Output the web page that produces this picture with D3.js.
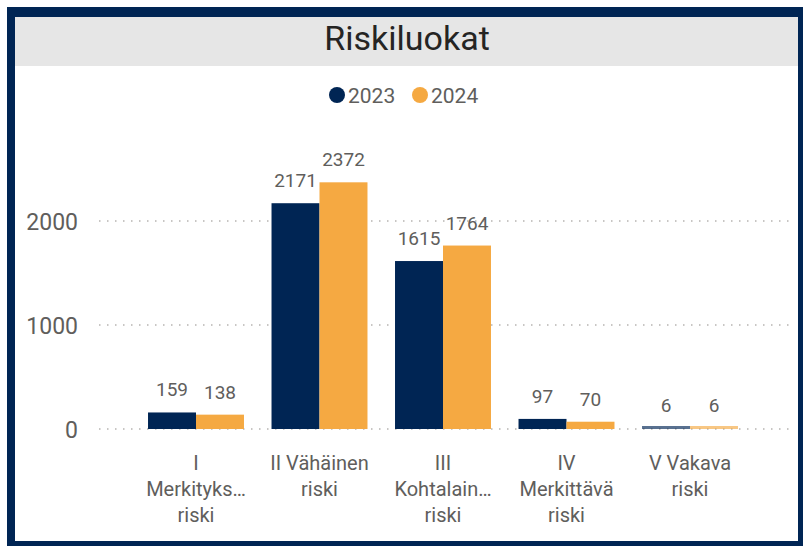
<!DOCTYPE html>
<html>
<head>
<meta charset="utf-8">
<script src="https://cdn.jsdelivr.net/npm/d3@7"></script>
<style>
  body { margin: 0; background: #fff; }
  svg text { font-family: Roboto, "Noto Sans", sans-serif; }
</style>
</head>
<body>
<svg id="chart" width="803" height="546"></svg>
<script>
// data
var categories = ["I Merkityksetön riski", "II Vähäinen riski", "III Kohtalainen riski", "IV Merkittävä riski", "V Vakava riski"];
var tickLines = [["I", "Merkityks…", "riski"], ["II Vähäinen", "riski"], ["III", "Kohtalain…", "riski"], ["IV", "Merkittävä", "riski"], ["V Vakava", "riski"]];
var years = ["2023", "2024"];
var values2023 = [159, 2171, 1615, 97, 6];
var values2024 = [138, 2372, 1764, 70, 6];
var yTicks = [0, 1000, 2000];

var colors = {"2023": "#002554", "2024": "#f5a942"};
var grey = "#605e5c";

var svg = d3.select("#chart");

// frame
svg.append("rect").attr("x", 7).attr("y", 7).attr("width", 796).attr("height", 539).attr("fill", "#002554");
svg.append("rect").attr("x", 15).attr("y", 17).attr("width", 783).attr("height", 524).attr("fill", "#fff");
svg.append("rect").attr("x", 15).attr("y", 17).attr("width", 783).attr("height", 49).attr("fill", "#e6e6e6");

svg.append("text")
  .attr("x", 407).attr("y", 50)
  .attr("text-anchor", "middle")
  .style("font-size", "34px")
  .style("fill", "#252423")
  .text("Riskiluokat");

// legend
var legend = svg.append("g");
var legendX = [337, 420];
years.forEach(function(yr, i) {
  legend.append("circle").attr("cx", legendX[i]).attr("cy", 95).attr("r", 8).attr("fill", colors[yr]);
  legend.append("text").attr("x", legendX[i] + 11).attr("y", 103)
    .style("font-size", "21px").style("fill", grey).text(yr);
});

// scales
var x0 = d3.scaleBand()
  .domain(categories)
  .range([134.25, 751.75])
  .paddingInner(0.223)
  .paddingOuter(0.1115);

var x1 = d3.scaleBand()
  .domain(years)
  .range([0, x0.bandwidth()]);

var y = d3.scaleLinear()
  .domain([0, 2500])
  .range([429, 169]);

// grid
svg.append("g").selectAll("line")
  .data(yTicks)
  .enter()
  .append("line")
    .attr("x1", 99).attr("x2", 792)
    .attr("y1", function(d) { return y(d); })
    .attr("y2", function(d) { return y(d); })
    .attr("stroke", "#c8c6c4")
    .attr("stroke-width", 2)
    .attr("stroke-dasharray", "1.5,6.5");

// y axis labels
var yAxis = svg.append("g")
  .attr("transform", "translate(78,0)")
  .call(d3.axisLeft(y).tickValues(yTicks).tickFormat(d3.format("d")).tickSize(0).tickPadding(0));
yAxis.select(".domain").remove();
yAxis.selectAll("text")
  .style("font-size", "23px")
  .style("fill", grey)
  .attr("dy", "0.35em");

// bars
var rows = categories.map(function(c, i) {
  return {cat: c, vals: [{yr: "2023", v: values2023[i]}, {yr: "2024", v: values2024[i]}]};
});

var groups = svg.append("g").selectAll("g")
  .data(rows)
  .enter()
  .append("g")
    .attr("transform", function(d) { return "translate(" + x0(d.cat) + ",0)"; });

groups.selectAll("rect")
  .data(function(d) { return d.vals; })
  .enter()
  .append("rect")
    .attr("x", function(d) { return x1(d.yr); })
    .attr("width", x1.bandwidth())
    .attr("y", function(d) { return Math.min(y(d.v), y(0) - 3); })
    .attr("height", function(d) { return Math.max(y(0) - y(d.v), 3); })
    .attr("fill", function(d) { return colors[d.yr]; })
    .attr("fill-opacity", function(d) { return (y(0) - y(d.v)) < 3 ? 0.65 : 1; });

groups.selectAll("text")
  .data(function(d) { return d.vals; })
  .enter()
  .append("text")
    .attr("x", function(d) { return x1(d.yr) + x1.bandwidth() / 2; })
    .attr("y", function(d) { return y(d.v) - 16; })
    .attr("text-anchor", "middle")
    .style("font-size", "19px")
    .style("fill", grey)
    .text(function(d) { return d.v; });

// x labels
var xLab = svg.append("g").selectAll("text")
  .data(categories)
  .enter()
  .append("text")
    .attr("text-anchor", "middle")
    .attr("transform", function(d) { return "translate(" + (x0(d) + x0.bandwidth() / 2) + ",470)"; })
    .style("font-size", "20px")
    .style("fill", grey);

xLab.selectAll("tspan")
  .data(function(d, i) { return tickLines[i]; })
  .enter()
  .append("tspan")
    .attr("x", 0)
    .attr("y", function(d, i) { return i * 26; })
    .text(function(d) { return d; });
</script>
</body>
</html>
